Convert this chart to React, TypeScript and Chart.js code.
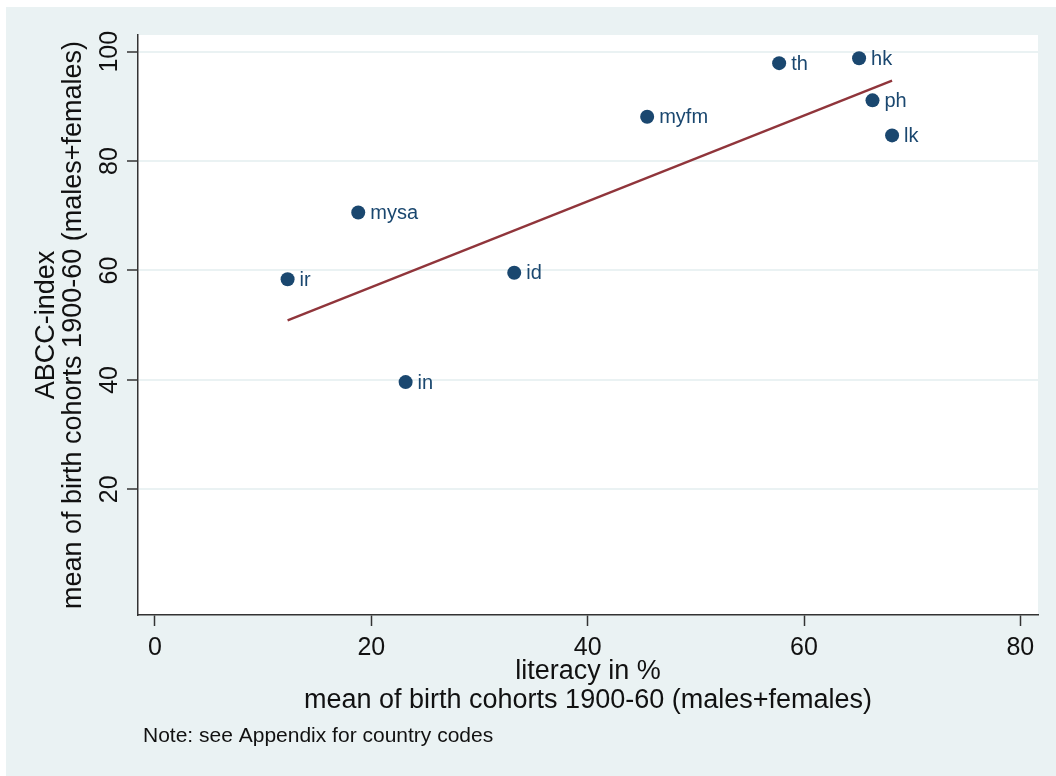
import React, { useEffect, useRef } from "react";
import { Chart, registerables } from "chart.js";

Chart.register(...registerables);

// ---- data ----
const countries = ["ir", "mysa", "id", "in", "myfm", "th", "hk", "ph", "lk"];
const literacy = [12.26, 18.79, 33.21, 23.17, 45.5, 57.7, 65.09, 66.33, 68.14];
const abcc = [58.4, 70.6, 59.6, 39.6, 88.1, 97.9, 98.8, 91.1, 84.7];
const fitX = [12.26, 68.14];
const fitY = [50.9, 94.7];
const xTicks = [0, 20, 40, 60, 80];
const yTicks = [20, 40, 60, 80, 100];
const xTitle = ["literacy in %", "mean of birth cohorts 1900-60 (males+females)"];
const yTitle = ["ABCC-index", "mean of birth cohorts 1900-60 (males+females)"];
const note = "Note: see Appendix for country codes";

const FAMILY = "'Liberation Sans', Arial, Helvetica, sans-serif";
const NAVY = "#1a476f";
const MAROON = "#90353b";
const BG = "#eaf2f3";
const AXIS = "#333333";
const TEXT = "#111111";

const decor = {
  id: "decor",
  beforeDraw(chart: any) {
    const ctx = chart.ctx;
    const a = chart.chartArea;
    ctx.save();
    ctx.fillStyle = "#ffffff";
    ctx.fillRect(0, 0, chart.width, chart.height);
    ctx.fillStyle = BG;
    ctx.fillRect(6, 7, chart.width - 6, chart.height - 7);
    ctx.fillStyle = "#ffffff";
    ctx.fillRect(a.left, a.top, a.right - a.left, a.bottom - a.top);
    ctx.restore();
  },
  afterDraw(chart: any) {
    const ctx = chart.ctx;
    const ys = chart.scales.y;
    ctx.save();
    // rotated y tick labels
    ctx.fillStyle = TEXT;
    ctx.font = `25px ${FAMILY}`;
    yTicks.forEach((v) => {
      const py = ys.getPixelForValue(v);
      ctx.save();
      ctx.translate(ys.right - 21, py);
      ctx.rotate(-Math.PI / 2);
      ctx.textAlign = "center";
      ctx.textBaseline = "alphabetic";
      ctx.fillText(String(v), 0, 0);
      ctx.restore();
    });
    // marker labels
    const meta = chart.getDatasetMeta(0);
    ctx.fillStyle = NAVY;
    ctx.font = `20px ${FAMILY}`;
    ctx.textAlign = "left";
    ctx.textBaseline = "middle";
    meta.data.forEach((pt: any, i: number) => {
      ctx.fillText(countries[i], pt.x + 12, pt.y + 1);
    });
    // note
    ctx.fillStyle = TEXT;
    ctx.font = `21px ${FAMILY}`;
    ctx.textBaseline = "alphabetic";
    ctx.fillText(note, 143, 742);
    ctx.restore();
  },
};

export default function App() {
  const ref = useRef<HTMLCanvasElement>(null);
  useEffect(() => {
    if (!ref.current) return;
    const chart = new Chart(ref.current, {
      type: "scatter",
      data: {
        datasets: [
          {
            label: "countries",
            data: literacy.map((x, i) => ({ x, y: abcc[i] })),
            backgroundColor: NAVY,
            borderColor: NAVY,
            pointRadius: 7,
            pointBorderWidth: 0,
            showLine: false,
          },
          {
            label: "fit",
            data: fitX.map((x, i) => ({ x, y: fitY[i] })),
            borderColor: MAROON,
            backgroundColor: MAROON,
            borderWidth: 2.4,
            pointRadius: 0,
            showLine: true,
          },
        ],
      },
      options: {
        animation: false,
        responsive: false,
        devicePixelRatio: 1,
        layout: { padding: { top: 35, right: 18, left: 0, bottom: 0 } },
        plugins: { legend: { display: false }, tooltip: { enabled: false } },
        scales: {
          x: {
            type: "linear",
            min: -1.57,
            max: 81.63,
            afterBuildTicks: (s: any) => {
              s.ticks = xTicks.map((v) => ({ value: v }));
            },
            afterFit: (s: any) => {
              s.height = 161;
            },
            grid: {
              drawOnChartArea: false,
              drawTicks: true,
              tickLength: 11,
              tickColor: AXIS,
              tickWidth: 1.5,
            },
            border: { display: true, color: AXIS, width: 1.5 },
            ticks: {
              color: TEXT,
              font: { family: FAMILY, size: 25 },
              padding: 7,
              maxRotation: 0,
              autoSkip: false,
            },
            title: {
              display: true,
              text: xTitle,
              color: TEXT,
              font: { family: FAMILY, size: 27, lineHeight: "29px" },
              padding: { top: 0, bottom: 60.5 },
            },
          },
          y: {
            type: "linear",
            min: -2.98,
            max: 103.05,
            afterBuildTicks: (s: any) => {
              s.ticks = yTicks.map((v) => ({ value: v }));
            },
            afterFit: (s: any) => {
              s.width = 138;
            },
            grid: {
              color: BG,
              lineWidth: 2,
              drawTicks: true,
              tickLength: 11,
              tickColor: AXIS,
              tickWidth: 1.5,
            },
            border: { display: true, color: AXIS, width: 1.5 },
            ticks: { display: false },
            title: {
              display: true,
              text: yTitle,
              color: TEXT,
              font: { family: FAMILY, size: 27, lineHeight: "27px" },
              padding: { top: 33.5, bottom: 0 },
            },
          },
        },
      },
      plugins: [decor],
    } as any);
    return () => chart.destroy();
  }, []);
  return (
    <div style={{ position: "absolute", left: 0, top: 0, width: 1056, height: 776 }}>
      <canvas ref={ref} width={1056} height={776} style={{ display: "block", width: 1056, height: 776 }} />
    </div>
  );
}
